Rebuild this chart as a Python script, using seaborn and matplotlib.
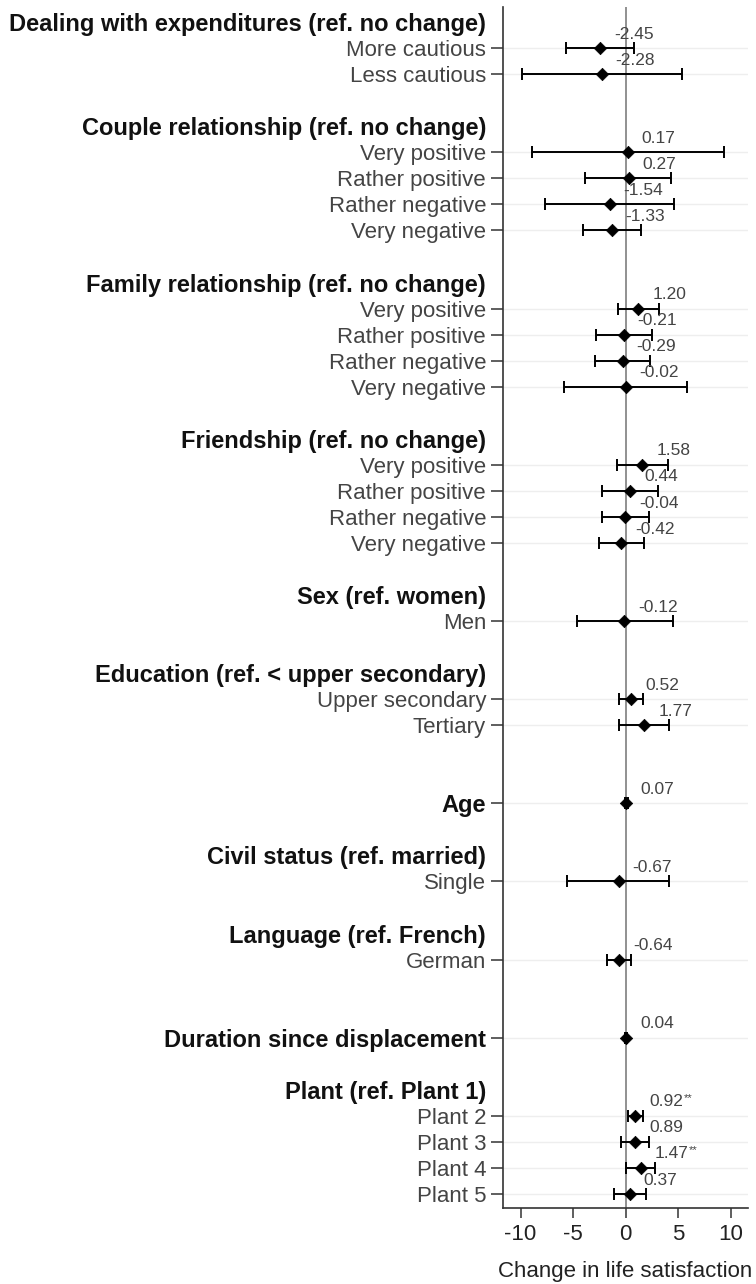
import pandas as pd
import matplotlib
matplotlib.use("Agg")
import matplotlib.pyplot as plt
import seaborn as sns

# global style
sns.set_theme(style="ticks")
plt.rcParams["font.family"] = ["Liberation Sans", "DejaVu Sans"]
plt.rcParams["axes.unicode_minus"] = False

# rows of the y axis: headings (bold, no tick), items, bold items with a tick, blank spacers
row_labels = [
    "Dealing with expenditures (ref. no change)", "More cautious", "Less cautious", "",
    "Couple relationship (ref. no change)", "Very positive", "Rather positive", "Rather negative", "Very negative", "",
    "Family relationship (ref. no change)", "Very positive", "Rather positive", "Rather negative", "Very negative", "",
    "Friendship (ref. no change)", "Very positive", "Rather positive", "Rather negative", "Very negative", "",
    "Sex (ref. women)", "Men", "",
    "Education (ref. < upper secondary)", "Upper secondary", "Tertiary", "", "",
    "Age", "",
    "Civil status (ref. married)", "Single", "",
    "Language (ref. French)", "German", "", "",
    "Duration since displacement", "",
    "Plant (ref. Plant 1)", "Plant 2", "Plant 3", "Plant 4", "Plant 5",
]
row_kind = [
    "head", "item", "item", "blank",
    "head", "item", "item", "item", "item", "blank",
    "head", "item", "item", "item", "item", "blank",
    "head", "item", "item", "item", "item", "blank",
    "head", "item", "blank",
    "head", "item", "item", "blank", "blank",
    "bold", "blank",
    "head", "item", "blank",
    "head", "item", "blank", "blank",
    "bold", "blank",
    "head", "item", "item", "item", "item",
]

# estimates and 95% confidence bounds, in row order
coef = [-2.45, -2.28,
        0.17, 0.27, -1.54, -1.33,
        1.20, -0.21, -0.29, -0.02,
        1.58, 0.44, -0.04, -0.42,
        -0.12,
        0.52, 1.77,
        0.07,
        -0.67,
        -0.64,
        0.04,
        0.92, 0.89, 1.47, 0.37]
ci_low = [-5.70, -9.91,
          -8.90, -3.84, -7.66, -4.05,
          -0.70, -2.79, -2.92, -5.86,
          -0.83, -2.22, -2.22, -2.51,
          -4.62,
          -0.61, -0.61,
          -0.05,
          -5.55,
          -1.80,
          -0.05,
          0.22, -0.42, 0.06, -1.14]
ci_high = [0.82, 5.35,
           9.31, 4.30, 4.59, 1.42,
           3.13, 2.47, 2.34, 5.82,
           3.99, 3.10, 2.18, 1.74,
           4.46,
           1.61, 4.14,
           0.19,
           4.14,
           0.50,
           0.13,
           1.61, 2.18, 2.81, 1.90]
stars = ["", "", "", "", "", "", "", "", "", "", "", "", "", "",
         "", "", "", "", "", "", "", "**", "", "**", ""]

data_rows = [i for i, k in enumerate(row_kind) if k in ("item", "bold")]
df = pd.DataFrame({"row": data_rows, "coef": coef, "lo": ci_low, "hi": ci_high, "stars": stars})

fig = plt.figure(figsize=(7.56, 12.84), dpi=100)
ax = fig.add_axes([0.665, 0.059, 0.324, 0.9355])

# light grid lines at estimate rows
ax.hlines(df["row"], 0, 1, transform=ax.get_yaxis_transform(), color="#eeeeee", lw=1, zorder=1)
ax.axvline(0, color="#888888", lw=1.3, zorder=2)

ax.errorbar(df["coef"], df["row"], xerr=[df["coef"] - df["lo"], df["hi"] - df["coef"]],
            fmt="none", ecolor="black", elinewidth=1.4, capsize=4, capthick=1.4, zorder=3)
sns.scatterplot(data=df, x="coef", y="row", marker="D", s=40, color="black",
                edgecolor="black", ax=ax, zorder=4, legend=False)

for r in df.itertuples():
    ax.annotate(f"{r.coef:.2f}", (r.coef, r.row), xytext=(10, 10), textcoords="offset points",
                ha="left", va="center", fontsize=12.5, color="#444444")
    if r.stars:
        ax.annotate(r.stars, (r.coef, r.row), xytext=(34.5, 13), textcoords="offset points",
                    ha="left", va="center", fontsize=8, color="#444444")

ax.set_yticks(range(len(row_labels)))
ax.set_yticklabels(row_labels)
ax.set_ylim(45.55, -0.58)
ax.set_xlim(-11.7, 11.6)
ax.set_xticks([-10, -5, 0, 5, 10])
ax.set_ylabel("")
ax.set_xlabel("Change in life satisfaction", fontsize=16, color="#222222", labelpad=12)

ax.tick_params(axis="y", length=9, width=1.1, pad=3, labelsize=16, color="#333333", labelcolor="#444444")
ax.tick_params(axis="x", length=7, width=1.1, pad=4, labelsize=16, color="#333333", labelcolor="#222222")

for tick, kind, lab in zip(ax.yaxis.get_major_ticks(), row_kind, ax.get_yticklabels()):
    if kind in ("head", "blank"):
        tick.tick1line.set_visible(False)
    if kind in ("head", "bold"):
        lab.set_fontweight("bold")
        lab.set_fontsize(17)
        lab.set_color("#111111")

sns.despine(ax=ax)
for s in ["left", "bottom"]:
    ax.spines[s].set_color("#333333")
    ax.spines[s].set_linewidth(1.2)

fig.savefig("out.png", dpi=100)
